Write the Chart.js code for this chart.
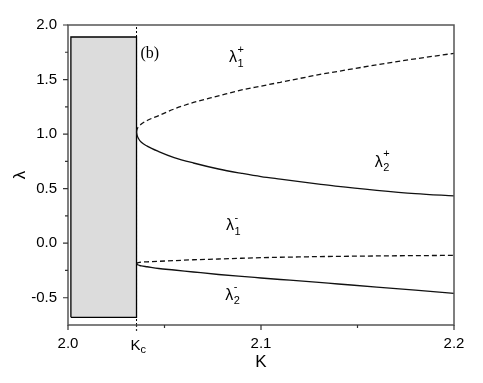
<!DOCTYPE html>
<html>
<head>
<meta charset="utf-8">
<script src="https://cdn.jsdelivr.net/npm/chart.js@4.4.1/dist/chart.umd.min.js"></script>
<style>
  html, body { margin: 0; padding: 0; background: #fff; }
  #wrap { width: 483px; height: 383px; }
</style>
</head>
<body>
<div id="wrap"><canvas id="chart" width="483" height="383"></canvas></div>
<script>
const kc = 2.0355;
const kValues = [2.0355, 2.0358, 2.0365, 2.038, 2.041, 2.047, 2.055, 2.065, 2.078, 2.09, 2.10, 2.11, 2.12, 2.13, 2.14, 2.16, 2.18, 2.2];
const lambda1Plus = [1.02, 1.045, 1.065, 1.093, 1.125, 1.17, 1.23, 1.29, 1.35, 1.405, 1.44, 1.475, 1.51, 1.545, 1.575, 1.635, 1.69, 1.74];
const lambda2Plus = [1.02, 0.99, 0.96, 0.925, 0.89, 0.84, 0.785, 0.735, 0.68, 0.64, 0.61, 0.587, 0.565, 0.542, 0.52, 0.485, 0.455, 0.433];
const lambda1Minus = [-0.19, -0.183, -0.178, -0.174, -0.171, -0.166, -0.16, -0.152, -0.145, -0.138, -0.133, -0.129, -0.126, -0.123, -0.121, -0.117, -0.114, -0.112];
const lambda2Minus = [-0.19, -0.196, -0.2, -0.208, -0.216, -0.232, -0.246, -0.264, -0.287, -0.305, -0.319, -0.333, -0.346, -0.36, -0.374, -0.402, -0.431, -0.46];

const boxK = [2.0015, kc];
const boxLambda = [-0.68, 1.89];

const xTicks = [2.0, 2.05, 2.1, 2.15, 2.2];
const xMajor = [2.0, 2.1, 2.2];
const yTicks = [2.0, 1.5, 1.0, 0.5, 0.0, -0.5];
const yMinor = [1.75, 1.25, 0.75, 0.25, -0.25];

const FONT = "'Liberation Sans', Arial, sans-serif";

function pts(xs, ys) {
  return xs.map((x, i) => ({ x: x, y: ys[i] }));
}

function curve(data, dashed) {
  return {
    data: data,
    showLine: true,
    pointRadius: 0,
    borderColor: '#111',
    borderWidth: 1.3,
    borderDash: dashed ? [5, 3] : [],
    cubicInterpolationMode: 'monotone',
    fill: false
  };
}

const boxPoints = [
  { x: boxK[0], y: boxLambda[0] }, { x: boxK[0], y: boxLambda[1] },
  { x: boxK[1], y: boxLambda[1] }, { x: boxK[1], y: boxLambda[0] },
  { x: boxK[0], y: boxLambda[0] }
];

function drawLambda(ctx, cx, cy, sub, sup) {
  ctx.font = '16px ' + FONT;
  ctx.textAlign = 'center';
  ctx.textBaseline = 'middle';
  ctx.fillText('λ', cx, cy);
  const w = ctx.measureText('λ').width;
  ctx.font = '11px ' + FONT;
  ctx.textAlign = 'left';
  ctx.fillText(sub, cx + w / 2 + 0.5, cy + 6);
  ctx.fillText(sup, cx + w / 2 + 0.5, cy - 8);
}

const decorations = {
  id: 'decorations',
  afterDatasetsDraw(chart) {
    const { ctx, chartArea: a, scales: { x, y } } = chart;
    ctx.save();
    // frame
    ctx.strokeStyle = '#555';
    ctx.lineWidth = 1.5;
    ctx.strokeRect(a.left, a.top, a.right - a.left, a.bottom - a.top);
    // ticks
    ctx.lineWidth = 1.2;
    ctx.strokeStyle = '#333';
    ctx.beginPath();
    yTicks.forEach(v => { const p = y.getPixelForValue(v); ctx.moveTo(a.left - 5, p); ctx.lineTo(a.left, p); });
    yMinor.forEach(v => { const p = y.getPixelForValue(v); ctx.moveTo(a.left - 3, p); ctx.lineTo(a.left, p); });
    xMajor.forEach(v => { const p = x.getPixelForValue(v); ctx.moveTo(p, a.bottom); ctx.lineTo(p, a.bottom + 5); });
    xTicks.filter(v => !xMajor.includes(v)).forEach(v => { const p = x.getPixelForValue(v); ctx.moveTo(p, a.bottom); ctx.lineTo(p, a.bottom + 3); });
    ctx.stroke();
    const pk = x.getPixelForValue(kc);
    ctx.setLineDash([2, 2]);
    ctx.beginPath(); ctx.moveTo(pk, a.bottom); ctx.lineTo(pk, a.bottom + 6); ctx.stroke();
    ctx.setLineDash([]);
    // K_c label
    ctx.fillStyle = '#000';
    ctx.font = '15px ' + FONT;
    ctx.textAlign = 'center';
    ctx.textBaseline = 'alphabetic';
    ctx.fillText('K', pk - 1, 350);
    ctx.font = '11px ' + FONT;
    ctx.textAlign = 'left';
    ctx.fillText('c', pk + 4, 353);
    // (b)
    ctx.font = "16px 'Liberation Serif', 'Times New Roman', serif";
    ctx.textAlign = 'left';
    ctx.textBaseline = 'middle';
    ctx.fillText('(b)', x.getPixelForValue(2.0375), y.getPixelForValue(1.74));
    // branch labels
    drawLambda(ctx, x.getPixelForValue(2.0855), y.getPixelForValue(1.70), '1', '+');
    drawLambda(ctx, x.getPixelForValue(2.161), y.getPixelForValue(0.742), '2', '+');
    drawLambda(ctx, x.getPixelForValue(2.084), y.getPixelForValue(0.159), '1', '-');
    drawLambda(ctx, x.getPixelForValue(2.0835), y.getPixelForValue(-0.478), '2', '-');
    ctx.restore();
  }
};

new Chart(document.getElementById('chart').getContext('2d'), {
  type: 'scatter',
  data: {
    datasets: [
      curve(pts(kValues, lambda1Plus), true),
      curve(pts(kValues, lambda2Plus), false),
      curve(pts(kValues, lambda1Minus), true),
      curve(pts(kValues, lambda2Minus), false),
      {
        data: boxPoints,
        showLine: true,
        pointRadius: 0,
        borderColor: '#000',
        borderWidth: 1.3,
        backgroundColor: '#dcdcdc',
        fill: 'shape',
        tension: 0
      },
      {
        data: [{ x: kc, y: -0.75 }, { x: kc, y: 2.0 }],
        showLine: true,
        pointRadius: 0,
        borderColor: '#000',
        borderWidth: 1,
        borderDash: [2, 2],
        fill: false
      }
    ]
  },
  plugins: [decorations],
  options: {
    responsive: false,
    animation: false,
    layout: { padding: { top: 25, right: 29, left: 0, bottom: 0 } },
    plugins: { legend: { display: false }, tooltip: { enabled: false } },
    scales: {
      x: {
        type: 'linear',
        min: 2.0,
        max: 2.2,
        afterBuildTicks: s => { s.ticks = xTicks.map(v => ({ value: v })); },
        afterFit: s => { s.height = 58; },
        grid: { display: false, drawTicks: false },
        border: { display: false },
        ticks: {
          padding: 10,
          color: '#000',
          font: { family: FONT, size: 15 },
          maxRotation: 0,
          autoSkip: false,
          callback: v => xMajor.includes(v) ? v.toFixed(1) : ''
        },
        title: {
          display: true,
          text: 'K',
          color: '#000',
          font: { family: FONT, size: 17 },
          padding: { top: 10, bottom: 10 }
        }
      },
      y: {
        type: 'linear',
        min: -0.75,
        max: 2.0,
        afterBuildTicks: s => { s.ticks = yTicks.map(v => ({ value: v })); },
        afterFit: s => { s.width = 68; },
        grid: { display: false, drawTicks: false },
        border: { display: false },
        ticks: {
          padding: 11,
          color: '#000',
          font: { family: FONT, size: 15 },
          callback: v => v.toFixed(1)
        },
        title: {
          display: true,
          text: 'λ',
          color: '#000',
          font: { family: FONT, size: 17 },
          padding: { top: 10, bottom: 10 }
        }
      }
    }
  }
});
</script>
</body>
</html>
